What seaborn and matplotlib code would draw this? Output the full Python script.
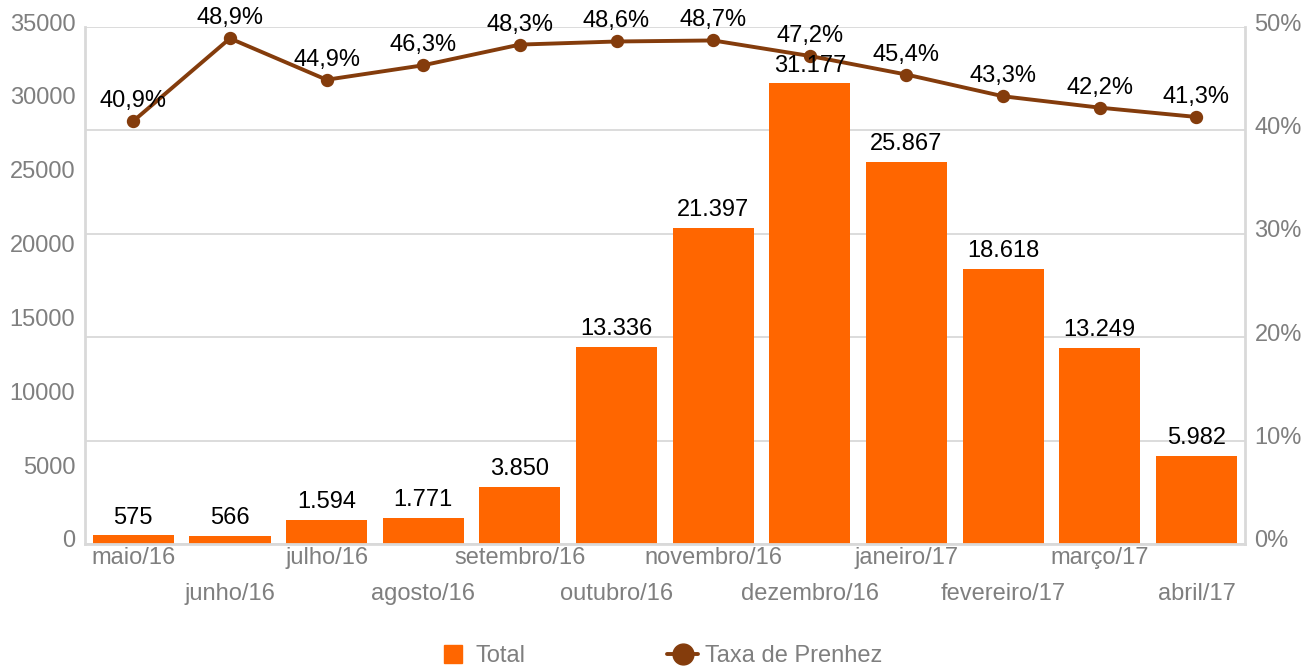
import numpy as np
import matplotlib.pyplot as plt
import matplotlib.transforms as mtransforms
from matplotlib.lines import Line2D
import seaborn as sns

# dados
meses = ['maio/16', 'junho/16', 'julho/16', 'agosto/16', 'setembro/16', 'outubro/16',
         'novembro/16', 'dezembro/16', 'janeiro/17', 'fevereiro/17', 'março/17', 'abril/17']
total = [575, 566, 1594, 1771, 3850, 13336, 21397, 31177, 25867, 18618, 13249, 5982]
taxa = [40.9, 48.9, 44.9, 46.3, 48.3, 48.6, 48.7, 47.2, 45.4, 43.3, 42.2, 41.3]

laranja = '#FF6600'
marrom = '#843C0C'
cinza = '#7f7f7f'
grade = '#d9d9d9'
fs = 17

sns.set_theme(style='white')
plt.rcParams['font.family'] = ['Liberation Sans', 'DejaVu Sans']

fig = plt.figure(figsize=(13.15, 6.72), dpi=100)
ax = fig.add_axes([0.0646, 0.1905, 0.882, 0.7693])

# barras
sns.barplot(x=meses, y=total, color=laranja, saturation=1, width=0.84, linewidth=0, ax=ax)

# linha no eixo secundario
ax2 = ax.twinx()
sns.pointplot(x=meses, y=taxa, color=marrom, markers='o', markersize=7.5, linewidth=2.8, ax=ax2)

ax.set_xlim(-0.5, len(meses) - 0.5)
ax.set_ylim(0, 35000)
ax2.set_ylim(0, 50)

ax.set_yticks(np.arange(0, 35001, 5000))
ax.set_yticks(np.arange(0, 35001, 7000), minor=True)
ax.yaxis.remove_overlapping_locs = False
ax.yaxis.grid(False, which='major')
ax.yaxis.grid(True, which='minor', color=grade, linewidth=1.3)
ax.set_axisbelow(True)

ax2.set_yticks(np.arange(0, 51, 10))
ax2.set_yticklabels([f'{v}%' for v in range(0, 51, 10)])
ax2.grid(False)

ax.set_xticks(range(len(meses)))
ax.set_xticklabels(meses)
ax.set_xlabel('')
ax.set_ylabel('')
ax2.set_ylabel('')

ax.tick_params(axis='both', which='both', length=0, labelcolor=cinza, labelsize=fs)
ax.tick_params(axis='y', pad=7)
ax.tick_params(axis='x', pad=2)
ax2.tick_params(axis='y', length=0, labelcolor=cinza, labelsize=fs, pad=7)

for s in ['top', 'right']:
    ax.spines[s].set_visible(False)
for s in ['left', 'bottom']:
    ax.spines[s].set_color(grade)
    ax.spines[s].set_linewidth(2)
for s in ['top', 'left', 'bottom']:
    ax2.spines[s].set_visible(False)
ax2.spines['right'].set_color(grade)
ax2.spines['right'].set_linewidth(2)

# rotulos alternados no eixo x
for i, t in enumerate(ax.xaxis.get_major_ticks()):
    if i % 2 == 1:
        t.set_pad(28)

# rotulos do eixo y um pouco acima da grade
desloc = mtransforms.ScaledTranslation(0, 5 / 100, fig.dpi_scale_trans)
for lbl in ax.get_yticklabels() + ax2.get_yticklabels():
    lbl.set_transform(lbl.get_transform() + desloc)

# rotulos de dados
for i, v in enumerate(total):
    ax2.annotate(f'{v:,}'.replace(',', '.'), xy=(i, v), xycoords=ax.transData,
                 xytext=(0, 5), textcoords='offset points',
                 ha='center', va='bottom', fontsize=fs, color='black', zorder=5)
for i, v in enumerate(taxa):
    ax2.annotate(f'{v:.1f}'.replace('.', ',') + '%', xy=(i, v),
                 xytext=(0, 6.5), textcoords='offset points',
                 ha='center', va='bottom', fontsize=fs, color='black', zorder=5)

handles = [Line2D([], [], marker='s', linestyle='none', color=laranja, markersize=13),
           Line2D([], [], marker='o', color=marrom, linewidth=2.8, markersize=15)]
fig.legend(handles, ['Total', 'Taxa de Prenhez'], loc='center', bbox_to_anchor=(0.502, 0.024),
           ncol=2, frameon=False, columnspacing=6.0, handlelength=1.3, handletextpad=0.3,
           labelcolor=cinza, fontsize=fs)

fig.savefig('out.png', dpi=100)
